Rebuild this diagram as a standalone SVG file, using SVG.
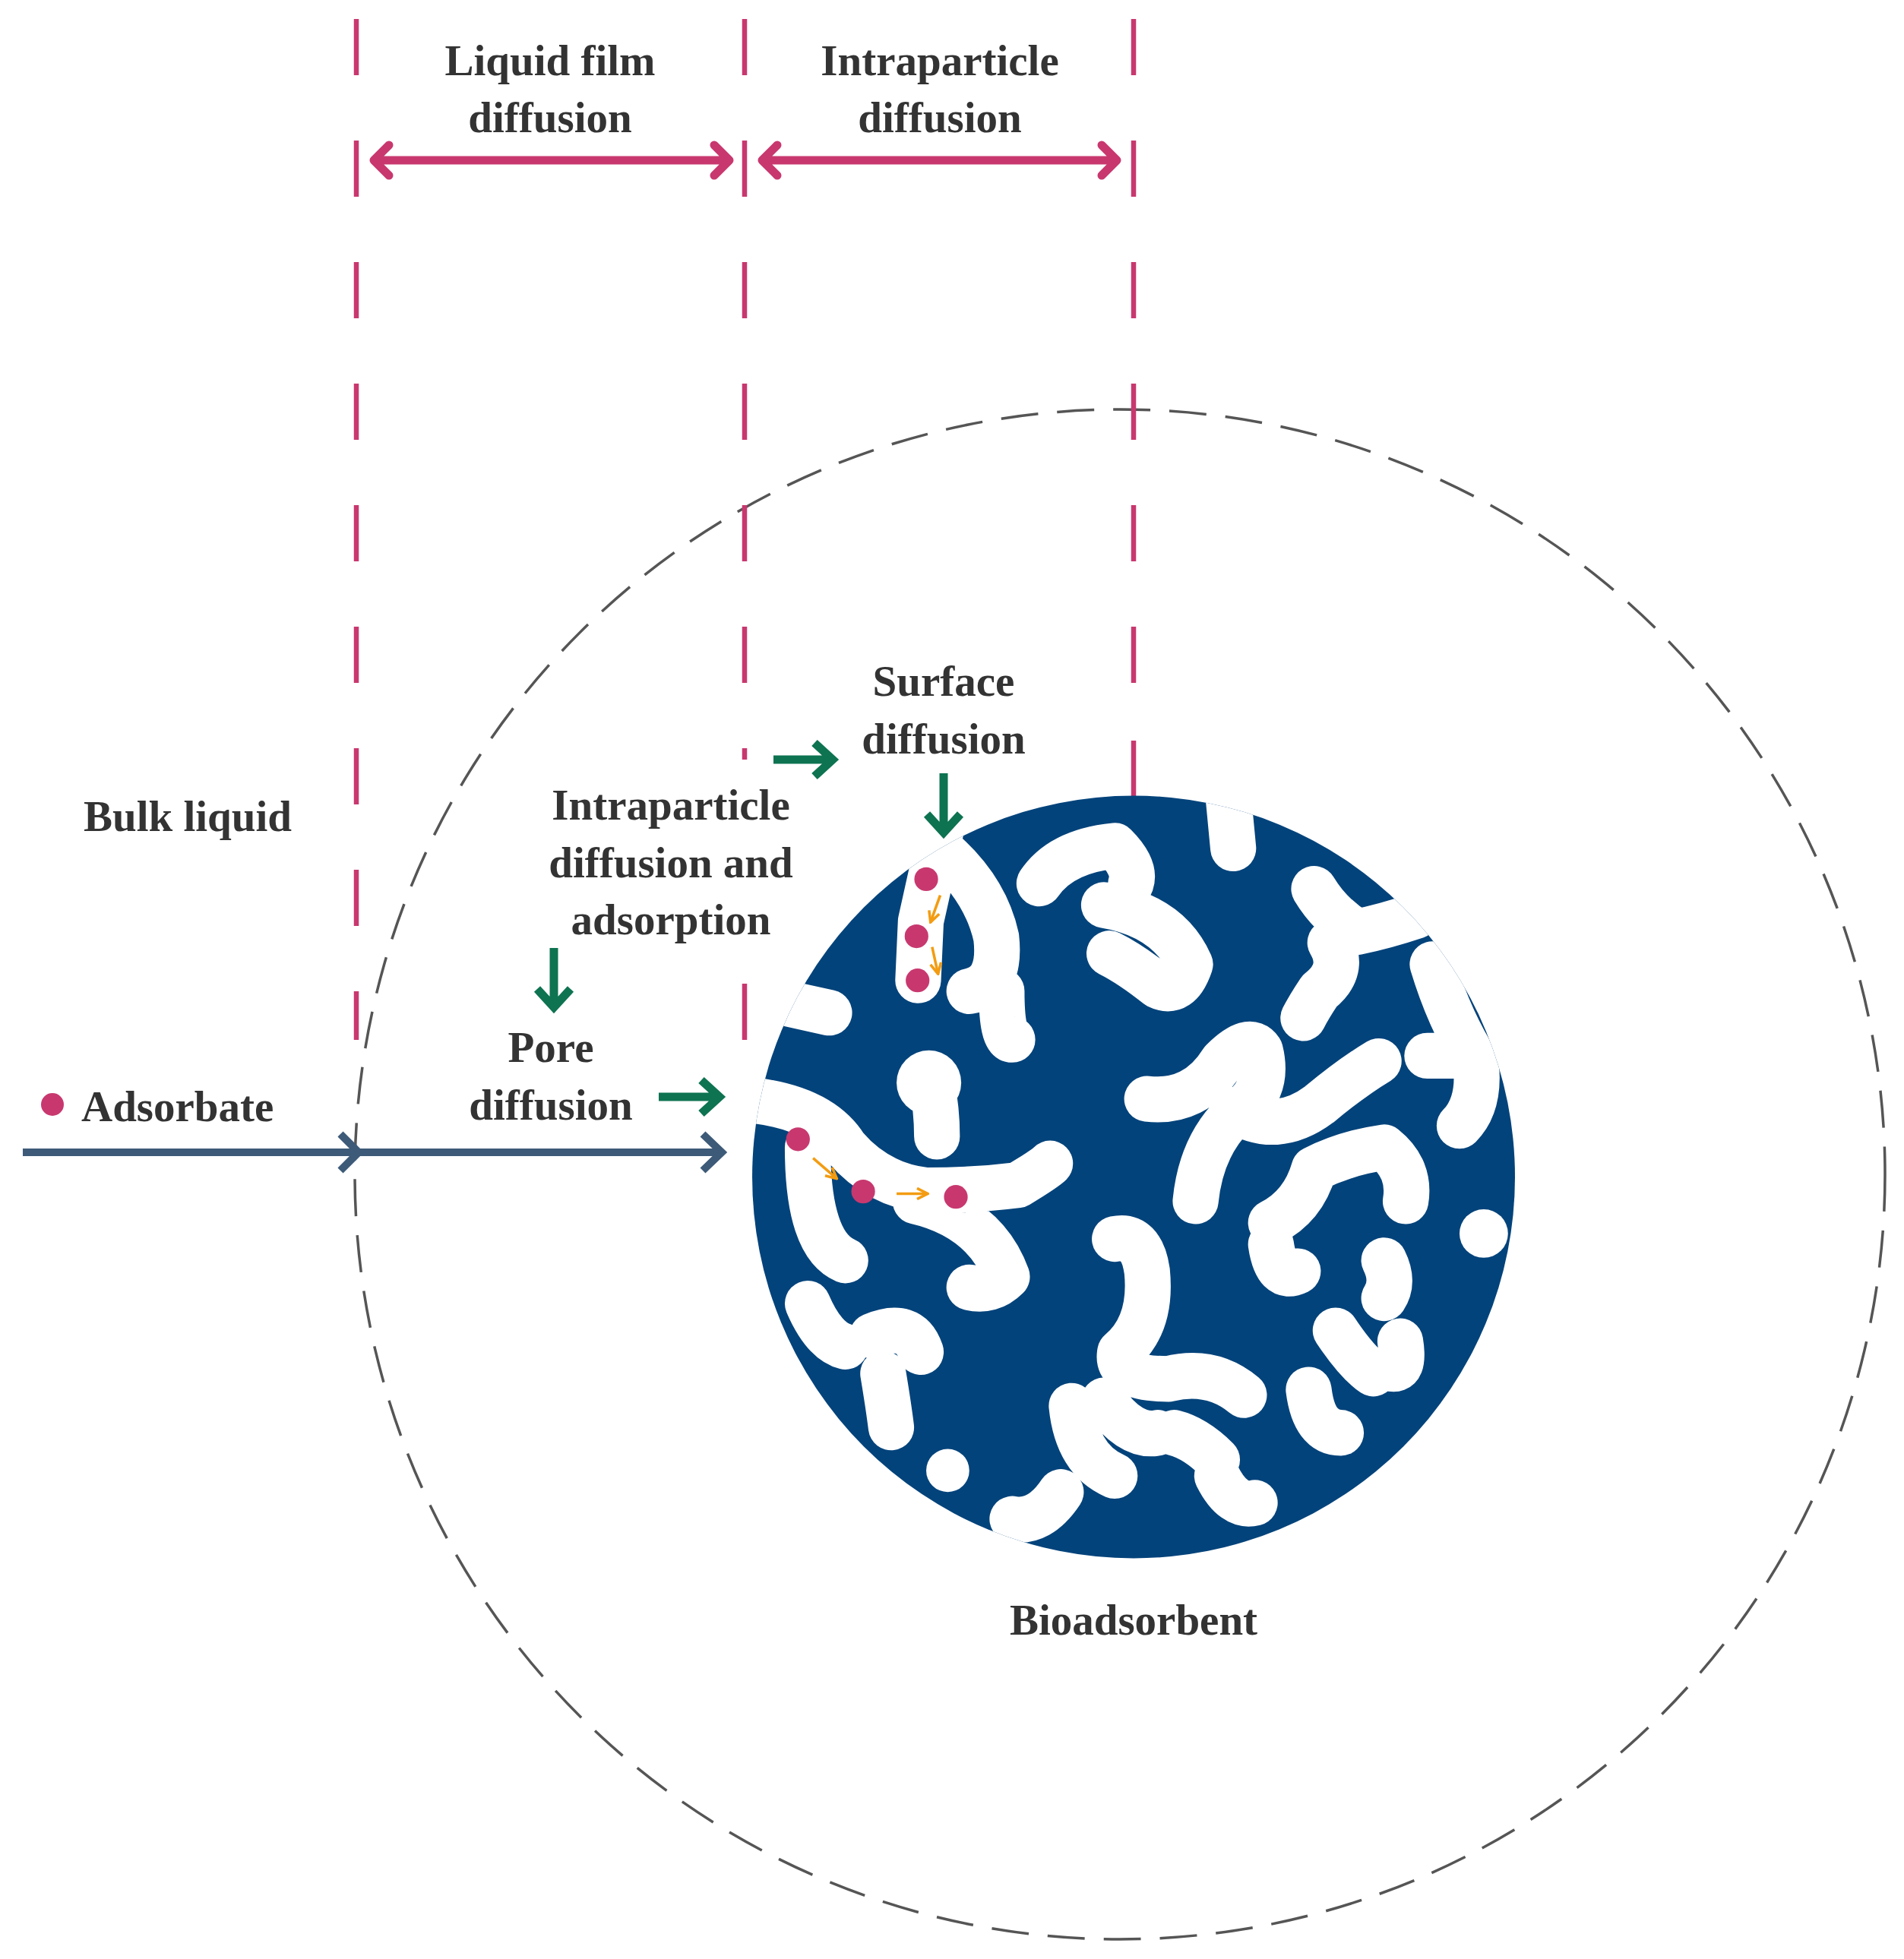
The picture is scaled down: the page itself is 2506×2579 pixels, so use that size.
<svg xmlns="http://www.w3.org/2000/svg" width="2506" height="2579" viewBox="0 0 2506 2579">
<style>
text{font-family:"Liberation Serif",serif;font-weight:bold;font-size:57px;fill:#333;text-anchor:middle}
.vd{stroke:#c8386f;stroke-width:6.5}
.pink{stroke:#c8386f;stroke-width:11;fill:none;stroke-linecap:round;stroke-linejoin:round}
.grn{stroke:#0e7350;stroke-width:11;fill:none;stroke-linejoin:miter}
.pore{stroke:#fff;fill:none;stroke-width:85;stroke-linecap:round;stroke-linejoin:round}
.dot{fill:#c8386f}
.or{stroke:#f39c12;stroke-width:5;fill:none}
</style>
<defs>
<marker id="oa" viewBox="0 0 10 10" refX="9" refY="5" markerWidth="5" markerHeight="5" orient="auto"><path d="M1,1 L9,5 L1,9" fill="none" stroke="#f39c12" stroke-width="2"/></marker>
<clipPath id="bc"><circle cx="835" cy="775" r="708"/></clipPath>
</defs>
<rect width="2506" height="2579" fill="#fff"/>
<g id="outer-circle"><circle cx="1474" cy="1546" r="1007" fill="none" stroke="#555" stroke-width="3.5" stroke-dasharray="49 25"/></g>
<g id="boundaries">
<path class="vd" d="M469,25V99M469,185V259M469,345V419M469,505V579M469,665V739M469,825V899M469,985V1059M469,1145V1219M469,1305V1369"/>
<path class="vd" d="M980,25V99M980,185V259M980,345V419M980,505V579M980,665V739M980,825V899M980,985V1000M980,1295V1369"/>
<path class="vd" d="M1492,25V99M1492,185V259M1492,345V419M1492,505V579M1492,665V739M1492,825V899M1492,975V1048"/>
</g>
<g id="bioadsorbent">
<g transform="translate(900,1000) scale(0.709)">
<circle cx="835" cy="775" r="708" fill="#03437b"/>
<g clip-path="url(#bc)">
<path class="pore" d="M1010,60 L1020,165"/>
<path class="pore" d="M480,120 L440,300 L435,410 M480,170 Q560,240 580,330 Q590,420 530,430 M590,430 Q590,520 610,520"/>
<path class="pore" d="M660,230 Q700,170 800,160 Q840,200 830,230 M780,270 Q900,290 940,380 Q920,440 880,420 Q830,380 790,360"/>
<path class="pore" d="M1170,240 Q1200,290 1250,320 Q1300,310 1360,290 M1200,340 Q1230,390 1180,430 Q1160,460 1150,480"/>
<path class="pore" d="M1390,380 Q1420,480 1470,560 Q1480,640 1440,680 M1380,550 L1440,550"/>
<path class="pore" d="M860,630 Q950,640 1000,560 Q1050,510 1070,540 Q1090,620 1020,660 Q960,720 950,820 M1020,650 Q1100,700 1180,640 Q1240,590 1290,560"/>
<path class="pore" d="M100,630 Q250,640 300,720 Q360,790 450,800 Q540,800 620,790 Q670,760 680,750 M230,720 Q230,900 300,930 M430,820 Q560,850 600,960 Q570,990 530,980"/>
<path class="pore" d="M460,600 Q470,650 470,700"/>
<circle cx="455" cy="600" r="60" fill="#fff"/>
<circle cx="270" cy="470" r="40" fill="#fff"/>
<path class="pore" d="M180,450 L270,470"/>
<path class="pore" d="M230,1010 Q260,1080 300,1090 M350,1070 Q420,1040 440,1100 M370,1140 Q380,1200 385,1240"/>
<circle cx="490" cy="1320" r="40" fill="#fff"/>
<path class="pore" d="M800,890 Q850,880 860,950 Q870,1050 810,1100 Q800,1150 900,1150 Q980,1130 1040,1180 M720,1200 Q730,1300 800,1330 M780,1190 Q830,1260 880,1250 M910,1250 Q950,1260 990,1300"/>
<path class="pore" d="M1090,860 Q1150,830 1170,760 Q1230,730 1300,720 Q1350,760 1340,820 M1090,900 Q1100,970 1140,950 M1300,930 Q1320,970 1300,1000"/>
<circle cx="1485" cy="880" r="45" fill="#fff"/>
<path class="pore" d="M1210,1060 Q1250,1120 1280,1140 M1160,1170 Q1170,1250 1220,1250 M1330,1080 Q1340,1140 1310,1130"/>
<path class="pore" d="M610,1410 Q660,1420 700,1360 M990,1330 Q1020,1390 1060,1380"/>
</g>
<circle class="dot" cx="450" cy="222" r="22"/><circle class="dot" cx="432" cy="328" r="22"/><circle class="dot" cx="434" cy="410" r="22"/>
<circle class="dot" cx="212" cy="705" r="22"/><circle class="dot" cx="333" cy="802" r="22"/><circle class="dot" cx="505" cy="812" r="22"/>
<path class="or" marker-end="url(#oa)" d="M476,252 L458,302"/>
<path class="or" marker-end="url(#oa)" d="M461,348 L472,398"/>
<path class="or" marker-end="url(#oa)" d="M240,740 L284,778"/>
<path class="or" marker-end="url(#oa)" d="M395,806 L453,806"/>
</g>
</g>
<g id="connectors">
<path class="pink" d="M492,211H960M512,191L492,211L512,231M940,191L960,211L940,231"/>
<path class="pink" d="M1003,211H1470M1023,191L1003,211L1023,231M1450,191L1470,211L1450,231"/>
<path class="grn" d="M1018,1000H1094M1072,978L1096,1000L1072,1022"/>
<path class="grn" d="M1242,1018V1094M1220,1072L1242,1096L1264,1072"/>
<path class="grn" d="M729,1248V1324M707,1302L729,1326L751,1302"/>
<path class="grn" d="M867,1444H945M923,1422L947,1444L923,1466"/>
<path d="M30,1517H948M925,1493L950,1517L925,1541M448,1493L472,1517L448,1541" fill="none" stroke="#3d5a78" stroke-width="10"/>
</g>
<g id="labels">
<text x="724" y="99">Liquid film</text><text x="724" y="174">diffusion</text>
<text x="1237" y="99">Intraparticle</text><text x="1237" y="174">diffusion</text>
<text x="1242" y="916">Surface</text><text x="1242" y="992">diffusion</text>
<text x="247" y="1094">Bulk liquid</text>
<text x="883" y="1079">Intraparticle</text><text x="883" y="1155">diffusion and</text><text x="883" y="1230">adsorption</text>
<text x="725" y="1398">Pore</text><text x="725" y="1474">diffusion</text>
<circle class="dot" cx="69" cy="1454" r="15"/>
<text x="107" y="1476" style="text-anchor:start">Adsorbate</text>
<text x="1492" y="2152">Bioadsorbent</text>
</g>
</svg>
